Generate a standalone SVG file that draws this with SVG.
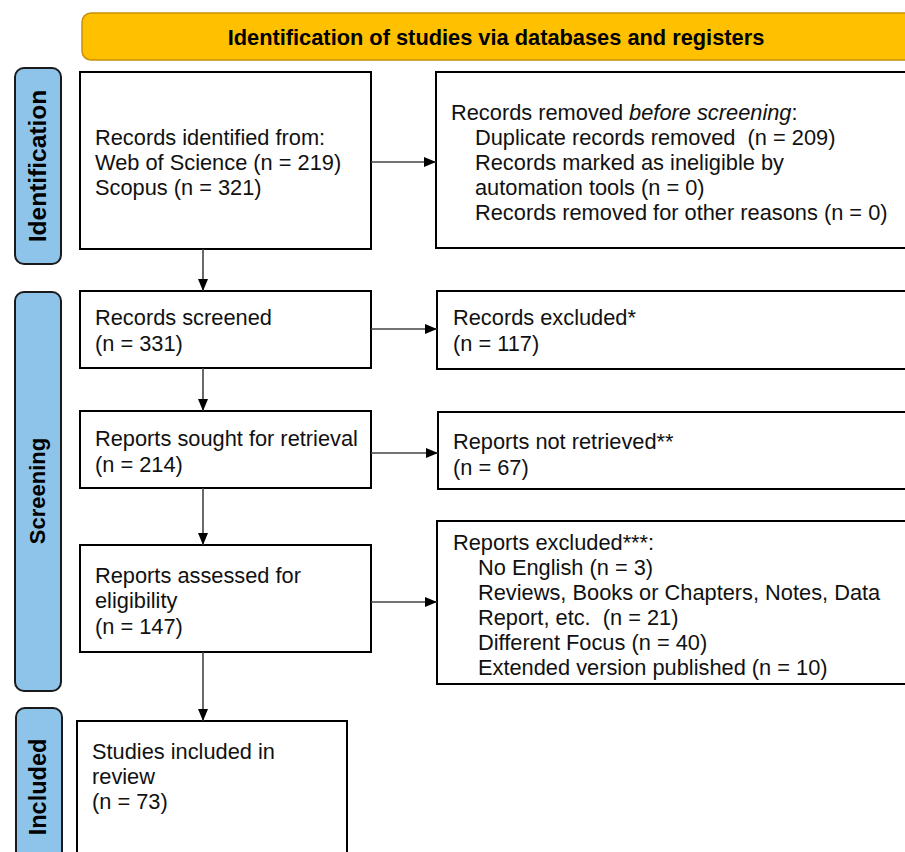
<svg xmlns="http://www.w3.org/2000/svg" width="905" height="852" viewBox="0 0 905 852">
<style>
.box{fill:#fff;stroke:#000;stroke-width:2}
.pill{fill:#8EC4E9;stroke:#1a1a1a;stroke-width:2}
.t{font-family:"Liberation Sans",Arial,sans-serif;font-size:21.8px;fill:#111}
.b{font-family:"Liberation Sans",Arial,sans-serif;font-weight:bold;fill:#000}
.c{stroke:#444;stroke-width:1.6;fill:none;marker-end:url(#ah)}
</style>
<defs>
<marker id="ah" markerUnits="userSpaceOnUse" markerWidth="12" markerHeight="12" viewBox="0 0 12 12" refX="12" refY="6" orient="auto">
<path d="M0,1 L12,6 L0,11 Z" fill="#000"/>
</marker>
</defs>
<rect width="905" height="852" fill="#fff"/>
<g id="banner">
<rect x="82" y="13" width="840" height="47" rx="9" fill="#FFC000" stroke="#C8900A" stroke-width="1.5"/>
<text class="b" x="496" y="45" font-size="21.8" text-anchor="middle">Identification of studies via databases and registers</text>
</g>
<g id="lbl-identification">
<rect class="pill" x="15" y="68" width="46" height="196" rx="9"/>
<text class="b" font-size="24.5" text-anchor="middle" transform="translate(46,166) rotate(-90)">Identification</text>
</g>
<g id="lbl-screening">
<rect class="pill" x="15" y="292" width="46" height="399" rx="9"/>
<text class="b" font-size="22" text-anchor="middle" transform="translate(45,491) rotate(-90)">Screening</text>
</g>
<g id="lbl-included">
<rect class="pill" x="16" y="708" width="46" height="170" rx="9"/>
<text class="b" font-size="23.5" text-anchor="middle" transform="translate(46,787) rotate(-90)">Included</text>
</g>
<g id="n-identified">
<rect class="box" x="80" y="72" width="291" height="177"/>
<text class="t" x="95" y="145">Records identified from:</text>
<text class="t" x="95" y="170">Web of Science (n = 219)</text>
<text class="t" x="95" y="195">Scopus (n = 321)</text>
</g>
<g id="n-removed">
<rect class="box" x="436" y="72" width="480" height="176"/>
<text class="t" x="451" y="120">Records removed <tspan font-style="italic">before screening</tspan>:</text>
<text class="t" x="475" y="145" xml:space="preserve">Duplicate records removed  (n = 209)</text>
<text class="t" x="475" y="170">Records marked as ineligible by</text>
<text class="t" x="475" y="195">automation tools (n = 0)</text>
<text class="t" x="475" y="220">Records removed for other reasons (n = 0)</text>
</g>
<g id="n-screened">
<rect class="box" x="80" y="291" width="291" height="77"/>
<text class="t" x="95" y="325">Records screened</text>
<text class="t" x="95" y="351">(n = 331)</text>
</g>
<g id="n-excluded">
<rect class="box" x="437" y="291" width="480" height="78"/>
<text class="t" x="453" y="325">Records excluded*</text>
<text class="t" x="453" y="351">(n = 117)</text>
</g>
<g id="n-sought">
<rect class="box" x="80" y="411" width="291" height="77"/>
<text class="t" x="95" y="446">Reports sought for retrieval</text>
<text class="t" x="95" y="472">(n = 214)</text>
</g>
<g id="n-notretrieved">
<rect class="box" x="438" y="412" width="480" height="77"/>
<text class="t" x="453" y="449">Reports not retrieved**</text>
<text class="t" x="453" y="475">(n = 67)</text>
</g>
<g id="n-assessed">
<rect class="box" x="80" y="545" width="291" height="107"/>
<text class="t" x="95" y="583">Reports assessed for</text>
<text class="t" x="95" y="608">eligibility</text>
<text class="t" x="95" y="634">(n = 147)</text>
</g>
<g id="n-reportsexcluded">
<rect class="box" x="437" y="521" width="480" height="163"/>
<text class="t" x="453" y="550">Reports excluded***:</text>
<text class="t" x="478" y="575">No English (n = 3)</text>
<text class="t" x="478" y="600">Reviews, Books or Chapters, Notes, Data</text>
<text class="t" x="478" y="625" xml:space="preserve">Report, etc.  (n = 21)</text>
<text class="t" x="478" y="650">Different Focus (n = 40)</text>
<text class="t" x="478" y="675">Extended version published (n = 10)</text>
</g>
<g id="n-included">
<rect class="box" x="77" y="721" width="270" height="160"/>
<text class="t" x="92" y="759">Studies included in</text>
<text class="t" x="92" y="784">review</text>
<text class="t" x="92" y="809">(n = 73)</text>
</g>
<g id="connectors">
<line class="c" x1="371" y1="162" x2="436" y2="162"/>
<line class="c" x1="371" y1="329" x2="437" y2="329"/>
<line class="c" x1="371" y1="453" x2="438" y2="453"/>
<line class="c" x1="371" y1="602" x2="437" y2="602"/>
<line class="c" x1="203" y1="249" x2="203" y2="291"/>
<line class="c" x1="203" y1="368" x2="203" y2="411"/>
<line class="c" x1="203" y1="488" x2="203" y2="545"/>
<line class="c" x1="203" y1="652" x2="203" y2="721"/>
</g>
</svg>
